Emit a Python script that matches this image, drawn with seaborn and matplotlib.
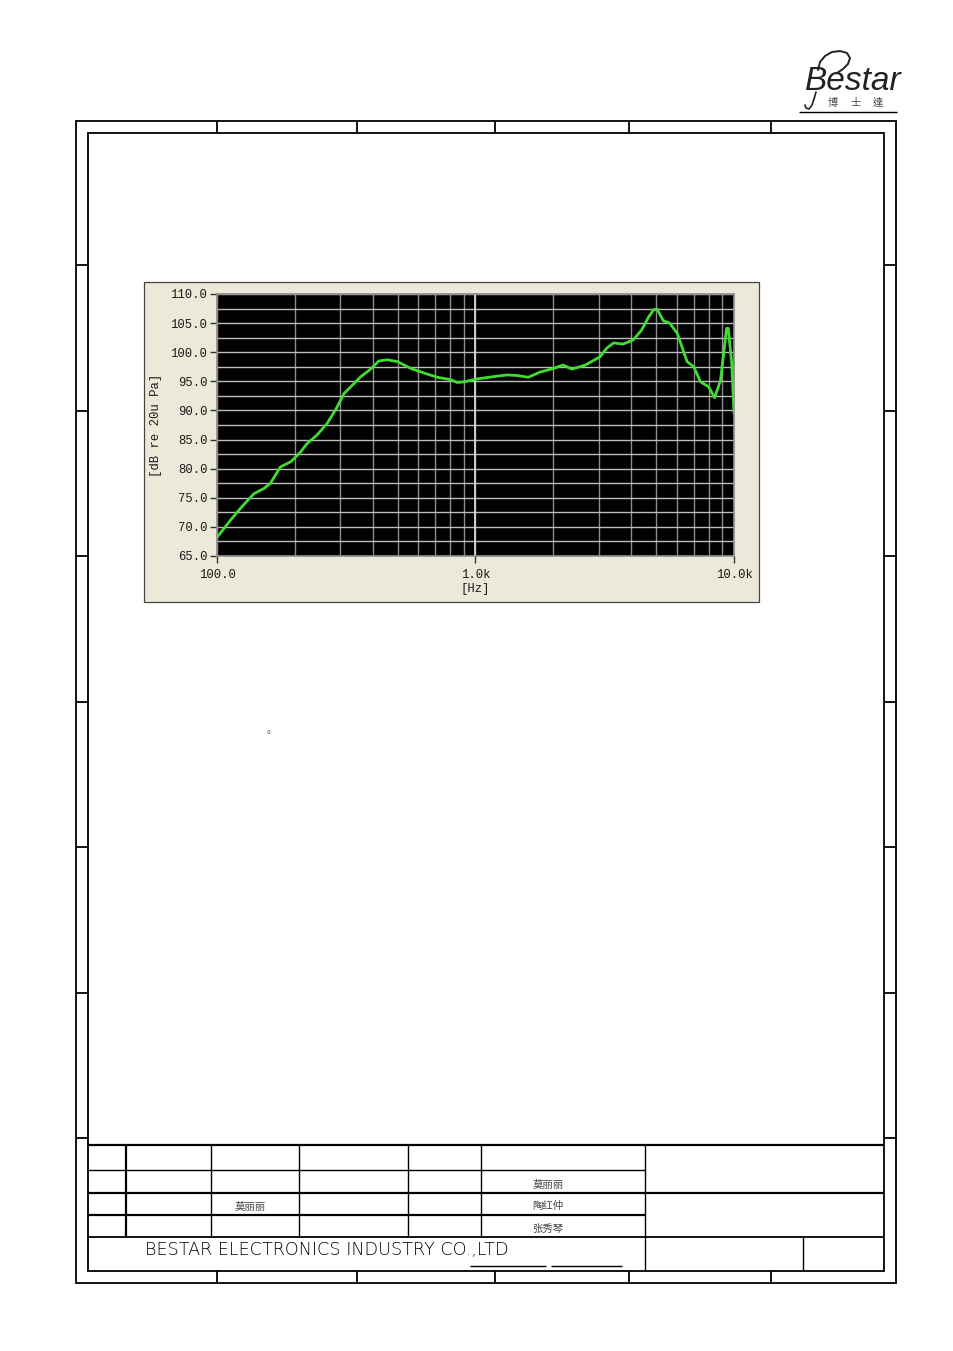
import numpy as np
import matplotlib
matplotlib.use("Agg")
import matplotlib.pyplot as plt
import seaborn as sns
import pandas as pd
from matplotlib.patches import Rectangle

sns.set_theme(style="white")
plt.rcParams['font.family'] = ['DejaVu Sans', 'Noto Sans CJK SC']

# frequency response
freq_hz = [100, 113, 125, 139, 152, 161, 176, 193, 210, 223, 244, 267, 290,
           310, 335, 360, 393, 423, 456, 498, 563, 635, 711, 800, 850, 900,
           1010, 1170, 1320, 1450, 1600, 1780, 2000, 2180, 2360, 2660, 3030,
           3220, 3420, 3720, 4070, 4390, 4680, 4890, 5040, 5330, 5640, 6040,
           6580, 6990, 7420, 7960, 8420, 8870, 9360, 9500, 9800, 10000]
spl_db = [68.2, 71.2, 73.5, 75.7, 76.6, 77.5, 80.3, 81.2, 82.8, 84.3, 85.8,
          87.8, 90.4, 92.9, 94.4, 95.8, 97.1, 98.5, 98.7, 98.4, 97.2, 96.4,
          95.7, 95.3, 94.8, 94.9, 95.4, 95.8, 96.1, 96.0, 95.7, 96.6, 97.2,
          97.8, 97.1, 97.8, 99.2, 100.7, 101.6, 101.4, 102.1, 103.8, 106.1,
          107.3, 107.4, 105.4, 105.0, 103.2, 98.4, 97.5, 94.9, 94.1, 92.2,
          95.2, 104.1, 104.1, 98.1, 89.5]

y_ticks = [65, 70, 75, 80, 85, 90, 95, 100, 105, 110]
x_ticks = [100, 1000, 10000]
x_labels = ['100.0', '1.0k', '10.0k']
signers = ['莫丽丽', '陶红仲', '张秀琴']
drawer = '莫丽丽'
company = 'BESTAR ELECTRONICS INDUSTRY CO.,LTD'
logo_cn = ['博', '士', '達']

W, H = 954, 1351
fig = plt.figure(figsize=(W / 100, H / 100), dpi=100)
fig.patch.set_facecolor('white')

# page layer in pixel coordinates (drawing frame, title block)
page = fig.add_axes([0, 0, 1, 1])
page.set_xlim(0, W)
page.set_ylim(H, 0)
page.axis('off')

def seg(x0, y0, x1, y1, lw=1.3, c='black'):
    page.plot([x0, x1], [y0, y1], color=c, lw=lw, solid_capstyle='butt')

# outer and inner frame
page.add_patch(Rectangle((76.5, 120.5), 820, 1162, fill=False, lw=1.3, ec='black'))
page.add_patch(Rectangle((88.5, 133), 796, 1137.5, fill=False, lw=1.3, ec='black'))
for x in [217, 357, 495.5, 629.5, 771.5]:
    seg(x, 120.5, x, 133)
    seg(x, 1270.5, x, 1282.5)
for y in [265, 411, 556, 702, 847, 993, 1138]:
    seg(76.5, y, 88.5, y)
    seg(884.5, y, 896.5, y)

# logo
page.text(853, 82, 'Bestar', fontsize=24, style='italic', family='Liberation Sans',
          ha='center', va='center', color='#222222')
page.plot([818, 820, 825, 832, 840, 847, 850, 848, 843, 837],
          [70, 62, 56, 52, 51, 53, 58, 64, 69, 73], color='#222222', lw=1.4)
page.plot([816, 814, 812, 809, 806, 805], [92, 99, 105, 109, 108, 105], color='#222222', lw=1.2)
for ch, x in zip(logo_cn, [833, 856, 878]):
    page.text(x, 103, ch, fontsize=7.4, family='Noto Sans CJK TC', ha='center', va='center',
              color='#444444')
seg(799, 112, 897, 112, lw=1.0)

# chart panel
page.add_patch(Rectangle((144.5, 281.5), 615, 320, fc='#ECE9D8', ec='#444444', lw=0.9))

page.text(272, 730, '。', fontsize=7, family='Noto Sans CJK SC', ha='center', va='center',
          color='#555555')

# title block
seg(88.5, 1145, 884.5, 1145, lw=1.6)
seg(88.5, 1237, 884.5, 1237, lw=1.3)
seg(88.5, 1170, 645, 1170, lw=1.0)
seg(88.5, 1193, 884.5, 1193, lw=1.6)
seg(88.5, 1215, 645, 1215, lw=1.6)
for x, lw in [(126.5, 1.6), (211.5, 1.0), (299.5, 1.0), (408, 1.0), (481.5, 1.0), (645.5, 1.0)]:
    seg(x, 1145, x, 1237, lw=lw)
seg(645.5, 1237, 645.5, 1270.5, lw=1.0)
seg(803.5, 1237, 803.5, 1270.5, lw=1.0)
seg(470, 1266, 546, 1266, lw=1.0)
seg(551, 1266, 622, 1266, lw=1.0)

page.text(145, 1250, company, fontsize=12.7, family='DejaVu Sans', ha='left', va='center',
          color='black', fontweight='light')
for name, y in zip(signers, [1185, 1206, 1229]):
    page.text(548, y, name, fontsize=7.5, family='Noto Sans CJK SC', ha='center', va='center',
              color='#444444')
page.text(250, 1207, drawer, fontsize=7.5, family='Noto Sans CJK SC', ha='center', va='center',
          color='#444444')

# response chart
ax = fig.add_axes([217 / W, 1 - 556 / H, (734 - 217) / W, (556 - 294) / H])
df = pd.DataFrame({'freq': freq_hz, 'spl': spl_db})
sns.lineplot(data=df, x='freq', y='spl', ax=ax, color='#40dc32', lw=2.0,
             estimator=None, sort=False, zorder=5)
ax.set_xscale('log')
ax.set_xlim(100, 10000)
ax.set_ylim(65, 110)
ax.set_facecolor('black')

ax.set_yticks(y_ticks)
ax.set_yticklabels([f'{v:.1f}' for v in y_ticks])
ax.set_yticks(np.arange(67.5, 110, 5), minor=True)
ax.set_xticks(x_ticks)
ax.set_xticklabels(x_labels)
ax.xaxis.set_minor_locator(matplotlib.ticker.LogLocator(base=10, subs=np.arange(2, 10)))
ax.xaxis.set_minor_formatter(matplotlib.ticker.NullFormatter())

ax.grid(True, which='both', axis='y', color='#bdbdbd', lw=1.0)
ax.grid(True, which='both', axis='x', color='#8e8e8e', lw=1.0)
ax.axvline(1000, color='#d8d8d8', lw=1.3, zorder=2)
ax.tick_params(axis='both', which='minor', length=0)
ax.tick_params(axis='y', which='major', length=5, width=1, color='#333333',
               direction='out', pad=2, labelsize=8.8, left=True)
ax.tick_params(axis='x', which='major', length=5, width=1, color='#333333',
               direction='out', pad=4, labelsize=8.8, bottom=True)
for lab in ax.get_xticklabels() + ax.get_yticklabels():
    lab.set_family('Liberation Mono')
    lab.set_color('#1a1a1a')
for s in ax.spines.values():
    s.set_color('#8c8c8c')
ax.set_xlabel('[Hz]', family='Liberation Mono', fontsize=8.8, color='#1a1a1a', labelpad=2)
ax.set_ylabel('[dB re 20u Pa]', family='Liberation Mono', fontsize=8.8, color='#1a1a1a',
              labelpad=6)

fig.savefig('out.png', dpi=100, facecolor='white')
